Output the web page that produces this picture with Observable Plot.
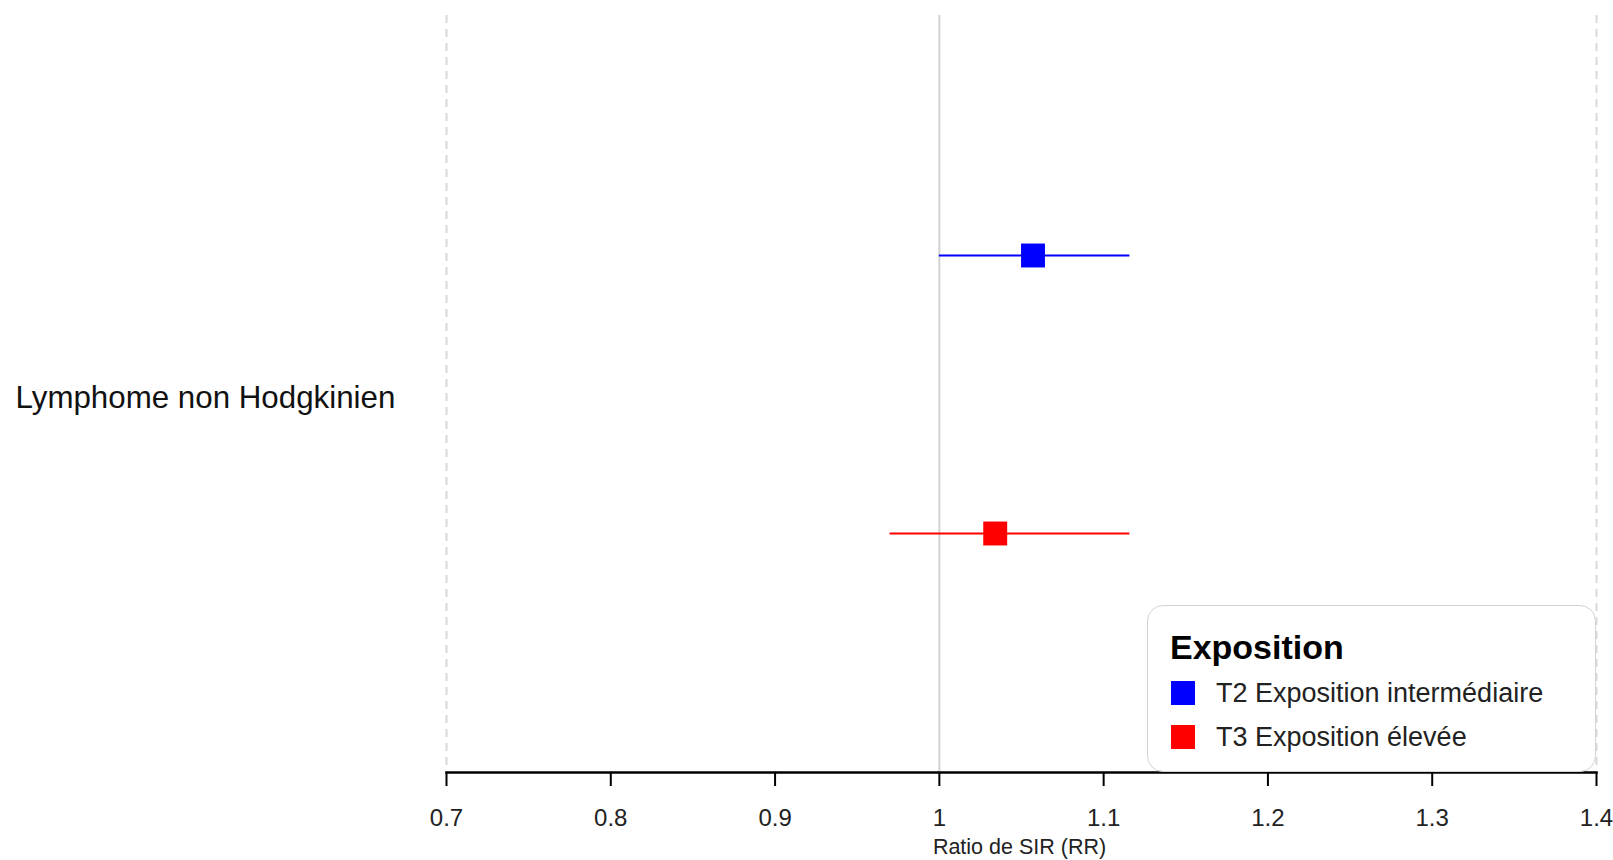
<!DOCTYPE html>
<html>
<head>
<meta charset="utf-8">
<script src="https://cdn.jsdelivr.net/npm/d3@7"></script>
<script src="https://cdn.jsdelivr.net/npm/@observablehq/plot@0.6"></script>
<style>
  html, body { margin: 0; padding: 0; background: #fff; }
  #wrap { position: relative; width: 1613px; height: 860px; font-family: "Liberation Sans", Arial, sans-serif; color: #111; }
  #legend { position: absolute; left: 1147px; top: 605px; width: 447px; height: 165px;
            border: 1.5px solid #d4d4d4; border-radius: 16px; background: #fff; box-sizing: content-box; }
  #legend .title { position: absolute; left: 22px; top: 24px; font-size: 34px; font-weight: bold; line-height: 1; color: #000; }
  #legend .item { position: absolute; left: 23px; height: 24px; display: flex; align-items: center; }
  #legend .sw { width: 24px; height: 24px; }
  #legend .lab { margin-left: 21px; font-size: 27px; line-height: 1; color: #222; }
</style>
</head>
<body>
<div id="wrap"></div>
<script>
// ---- data ----
const categories = ["Lymphome non Hodgkinien"];
const seriesKeys = ["T2", "T3"];
const seriesLabels = ["T2 Exposition intermédiaire", "T3 Exposition élevée"];
const seriesColors = ["#0000ff", "#ff0000"];
const estimates = [1.057, 1.034];
const lowerCI = [1.000, 0.970];
const upperCI = [1.116, 1.116];
const xTicks = [0.7, 0.8, 0.9, 1.0, 1.1, 1.2, 1.3, 1.4];
const xTickLabels = ["0.7", "0.8", "0.9", "1", "1.1", "1.2", "1.3", "1.4"];
const dashedRefs = [0.7, 1.4];
const nullRef = [1.0];
const xTitle = "Ratio de SIR (RR)";
const legendTitle = "Exposition";

const rows = seriesKeys.map((k, i) => ({
  category: categories[0], series: k, est: estimates[i], lo: lowerCI[i], hi: upperCI[i]
}));

const chart = Plot.plot({
  width: 1613,
  height: 860,
  marginLeft: 446,
  marginRight: 17,
  marginTop: 15,
  marginBottom: 88,
  style: { fontFamily: "'Liberation Sans', Arial, sans-serif", color: "#111", background: "#fff" },
  x: { domain: [0.7, 1.4] },
  y: { type: "point", domain: seriesKeys, padding: 0.857, axis: null },
  color: { domain: seriesKeys, range: seriesColors },
  marks: [
    Plot.ruleX(dashedRefs, { stroke: "#d9d9d9", strokeWidth: 2, strokeDasharray: "8,6" }),
    Plot.ruleX(nullRef, { stroke: "#d3d3d3", strokeWidth: 2 }),
    Plot.ruleY(rows, { y: "series", x1: "lo", x2: "hi", stroke: "series", strokeWidth: 2 }),
    Plot.dot(rows, { x: "est", y: "series", fill: "series", symbol: "square", r: 13.5, stroke: null }),
    Plot.frame({ anchor: "bottom", stroke: "#000", strokeWidth: 2.5 }),
    Plot.axisX({
      ticks: xTicks,
      tickFormat: (d, i) => xTickLabels[i],
      tickSize: 14,
      tickPadding: 22,
      strokeWidth: 2,
      stroke: "#000",
      fontSize: 24,
      fill: "#222",
      label: null
    }),
    Plot.text([xTitle], { text: d => d, frameAnchor: "bottom", dy: 75, fontSize: 21.5, fill: "#222", lineAnchor: "middle", dx: -2 }),
    Plot.text(categories, { text: d => d, frameAnchor: "left", textAnchor: "start", dx: -431, dy: 4, fontSize: 31.3, fill: "#111", lineAnchor: "middle" })
  ]
});

const wrap = document.getElementById("wrap");
wrap.appendChild(chart);

const legend = document.createElement("div");
legend.id = "legend";
const t = document.createElement("div");
t.className = "title";
t.textContent = legendTitle;
legend.appendChild(t);
seriesKeys.forEach((k, i) => {
  const it = document.createElement("div");
  it.className = "item";
  it.style.top = (75 + i * 44) + "px";
  const sw = document.createElement("div");
  sw.className = "sw";
  sw.style.background = seriesColors[i];
  const lab = document.createElement("span");
  lab.className = "lab";
  lab.textContent = seriesLabels[i];
  it.appendChild(sw);
  it.appendChild(lab);
  legend.appendChild(it);
});
wrap.appendChild(legend);
</script>
</body>
</html>
